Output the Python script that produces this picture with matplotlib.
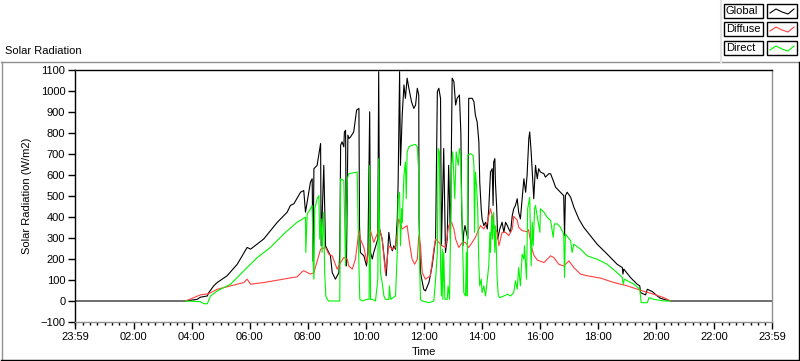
import matplotlib
matplotlib.use("Agg")
from matplotlib import pyplot as plt
from matplotlib.lines import Line2D
from matplotlib.patches import Rectangle
from matplotlib.ticker import MultipleLocator

# time in hours, values in W/m2
global_t = [-0.02, 3.79, 4.19, 4.30, 4.54, 4.59, 4.76, 4.88, 5.22, 5.57, 5.91, 6.03, 6.48, 6.95, 7.29,
            7.40, 7.52, 7.75, 7.86, 7.92, 8.09, 8.15, 8.18, 8.21, 8.32, 8.44, 8.46, 8.55, 8.61, 8.72,
            8.78, 8.84, 8.95, 9.07, 9.10, 9.13, 9.18, 9.24, 9.26, 9.30, 9.33, 9.38, 9.42, 9.47, 9.58,
            9.68, 9.76, 9.78, 9.81, 9.93, 10.02, 10.07, 10.13, 10.16, 10.22, 10.27, 10.41, 10.44, 10.47,
            10.56, 10.65, 10.70, 10.79, 10.85, 10.91, 10.96, 11.02, 11.08, 11.11, 11.16, 11.19, 11.25,
            11.31, 11.36, 11.42, 11.48, 11.57, 11.65, 11.71, 11.77, 11.82, 11.83, 11.88, 11.99, 12.05,
            12.17, 12.28, 12.40, 12.46, 12.51, 12.57, 12.60, 12.68, 12.74, 12.80, 12.85, 12.91, 12.97,
            13.03, 13.09, 13.14, 13.22, 13.27, 13.30, 13.34, 13.37, 13.41, 13.51, 13.54, 13.66, 13.72,
            13.77, 13.83, 13.89, 13.92, 13.97, 14.00, 14.06, 14.12, 14.18, 14.23, 14.29, 14.35, 14.38,
            14.40, 14.44, 14.46, 14.50, 14.54, 14.61, 14.69, 14.75, 14.81, 14.87, 14.92, 14.98, 15.04,
            15.09, 15.15, 15.21, 15.26, 15.32, 15.38, 15.44, 15.50, 15.55, 15.61, 15.64, 15.69, 15.73,
            15.78, 15.84, 15.90, 15.95, 16.01, 16.13, 16.18, 16.30, 16.36, 16.47, 16.53, 16.70, 16.81,
            16.84, 16.87, 16.93, 17.05, 17.16, 17.33, 17.50, 17.73, 17.96, 18.31, 18.65, 18.83, 18.85,
            18.88, 19.11, 19.34, 19.43, 19.46, 19.63, 19.69, 19.86, 20.03, 20.14, 20.26, 20.49, 23.98]
global_v = [0, 0, 8, 18, 24, 40, 72, 88, 120, 175, 255, 247, 295, 375, 423,
            455, 463, 518, 526, 423, 566, 582, 190, 630, 646, 750, 263, 646, 263, 231,
            215, 135, 104, 135, 231, 742, 758, 734, 805, 813, 167, 790, 774, 781, 805,
            909, 917, 359, 231, 215, 167, 231, 901, 231, 200, 231, 295, 1092, 343,
            295, 183, 120, 327, 263, 239, 263, 247, 391, 566, 1092, 646, 885,
            1029, 965, 1061, 1013, 949, 917, 933, 1013, 981, 391, 135, 56, 48,
            88, 167, 295, 997, 1013, 965, 263, 726, 231, 295, 646, 295, 1061,
            1045, 933, 965, 981, 800, 420, 263, 327, 359, 295, 965, 965, 949,
            885, 853, 758, 566, 439, 391, 359, 375, 343, 439, 614, 630, 455,
            662, 678, 566, 455, 295, 343, 375, 327, 375, 359, 343, 327, 407,
            439, 455, 487, 423, 391, 487, 582, 518, 598, 774, 805, 710, 614,
            487, 646, 582, 630, 614, 606, 590, 606, 606, 566, 542, 518, 502,
            311, 502, 518, 494, 447, 391, 351, 311, 271, 223, 175, 159, 128,
            152, 112, 80, 72, 40, 29, 56, 45, 24, 13, 8, 0, 0]

diffuse_t = [3.79, 4.30, 4.59, 4.88, 5.34, 5.80, 5.91, 6.03, 6.48, 6.95, 7.40, 7.63, 7.81, 7.86, 8.09,
             8.21, 8.44, 8.61, 8.72, 8.84, 9.01, 9.13, 9.24, 9.36, 9.41, 9.53, 9.64, 9.76, 9.81,
             9.93, 10.04, 10.16, 10.27, 10.41, 10.44, 10.56, 10.67, 10.79, 10.91, 11.02, 11.13, 11.25,
             11.42, 11.48, 11.59, 11.68, 11.77, 11.82, 11.88, 11.94, 12.05, 12.22, 12.34, 12.40, 12.51,
             12.63, 12.74, 12.85, 12.95, 13.03, 13.09, 13.20, 13.32, 13.43, 13.54, 13.66, 13.77, 13.89,
             13.95, 14.06, 14.18, 14.29, 14.35, 14.40, 14.52, 14.58, 14.69, 14.81, 14.92, 15.04, 15.09,
             15.21, 15.26, 15.38, 15.55, 15.60, 15.70, 15.78, 15.90, 16.13, 16.36, 16.47, 16.64, 16.81,
             16.99, 17.16, 17.39, 17.62, 18.08, 18.54, 19.00, 19.46, 19.91, 20.26, 20.49]
diffuse_v = [0, 29, 35, 56, 72, 88, 104, 80, 88, 99, 110, 115, 140, 144, 128,
             135, 247, 255, 223, 215, 152, 183, 207, 199, 167, 152, 199, 335, 295,
             255, 183, 335, 279, 327, 359, 295, 135, 263, 247, 255, 391, 343,
             359, 295, 199, 175, 199, 311, 263, 135, 104, 120, 247, 295, 279,
             263, 255, 359, 375, 343, 295, 255, 279, 279, 255, 279, 303, 343,
             359, 343, 375, 439, 407, 359, 327, 263, 327, 327, 311, 343, 403,
             385, 351, 335, 330, 340, 260, 219, 195, 183, 215, 207, 175, 167,
             191, 159, 128, 120, 109, 88, 72, 51, 32, 16, 0]

direct_t = [3.79, 4.30, 4.42, 4.54, 4.65, 4.88, 5.34, 5.80, 6.26, 6.71, 7.17, 7.63, 7.92, 7.93, 7.98,
            8.09, 8.15, 8.18, 8.21, 8.24, 8.32, 8.38, 8.41, 8.46, 8.49, 8.55, 8.58, 8.62, 8.67, 8.72,
            9.10, 9.13, 9.24, 9.30, 9.36, 9.41, 9.70, 9.73, 9.76, 9.79, 9.87, 10.04, 10.11, 10.13,
            10.16, 10.22, 10.33, 10.41, 10.44, 10.47, 10.50, 10.56, 10.62, 10.67, 10.79, 10.81, 10.85,
            11.02, 11.08, 11.11, 11.16, 11.19, 11.23, 11.25, 11.31, 11.36, 11.39, 11.42, 11.48, 11.59,
            11.71, 11.77, 11.82, 11.85, 11.88, 11.94, 12.17, 12.34, 12.40, 12.46, 12.49, 12.53, 12.57,
            12.60, 12.63, 12.65, 12.68, 12.72, 12.80, 12.83, 12.88, 12.95, 12.99, 13.06, 13.11, 13.18,
            13.22, 13.26, 13.32, 13.35, 13.37, 13.43, 13.46, 13.49, 13.51, 13.60, 13.69, 13.72, 13.74,
            13.77, 13.81, 13.85, 13.89, 13.92, 13.97, 14.00, 14.06, 14.12, 14.18, 14.23, 14.27, 14.29,
            14.33, 14.36, 14.40, 14.44, 14.47, 14.52, 14.56, 14.61, 14.75, 14.87, 14.98, 15.09, 15.15,
            15.21, 15.26, 15.32, 15.38, 15.44, 15.46, 15.53, 15.57, 15.61, 15.64, 15.69, 15.73, 15.76,
            15.81, 15.84, 15.95, 15.99, 16.01, 16.07, 16.13, 16.24, 16.36, 16.45, 16.49, 16.59, 16.70,
            16.81, 16.84, 16.87, 17.05, 17.10, 17.16, 17.39, 17.62, 17.96, 18.31, 18.65, 18.83, 18.86,
            18.90, 19.23, 19.43, 19.48, 19.69, 19.75, 19.91, 20.26, 20.49]
direct_v = [0, -3, -13, -13, 24, 48, 80, 144, 207, 255, 319, 375, 399, 231, 415,
            439, 455, 199, 104, 440, 487, 502, 295, 391, 231, 423, 135, 24, 8, 0,
            0, 582, 574, 167, 582, 606, 614, 391, 167, 8, 0, 8, 8, 646,
            8, 8, 0, 104, 678, 327, 135, 88, 24, 8, 8, 72, 8,
            24, 231, 487, 518, 263, 439, 375, 598, 662, 487, 710, 734, 742,
            745, 734, 614, 167, 8, 0, -8, 0, 104, 231, 726, 710, 167,
            24, 247, 8, 231, 8, 8, 72, 8, 646, 710, 487, 710, 646,
            726, 694, 327, 167, 40, 24, 231, 24, 694, 702, 694, 646, 327,
            614, 550, 439, 167, 72, 104, 40, 72, 24, 104, 167, 327, 231,
            407, 295, 423, 231, 359, 104, 24, 16, 24, 32, 24, 40, 96,
            56, 159, 72, 223, 199, 263, 104, 439, 471, 494, 167, 375, 263,
            439, 455, 359, 327, 439, 431, 423, 399, 383, 303, 367, 367, 351,
            319, 112, 319, 287, 231, 271, 247, 215, 199, 175, 135, 112, 80,
            104, 80, 56, -8, -8, 16, 8, 0, 0]

tick_pos = [-1 / 60, 2, 4, 6, 8, 10, 12, 14, 16, 18, 20, 22, 24 - 1 / 60]
tick_labels = ["23:59", "02:00", "04:00", "06:00", "08:00", "10:00", "12:00",
               "14:00", "16:00", "18:00", "20:00", "22:00", "23:59"]

GREEN = "#00F400"
RED = "#FF4040"
FONT = "Liberation Sans"
FS = 8

W, H = 800, 361
fig = plt.figure(figsize=(W / 100, H / 100), dpi=100, facecolor="white")


def px(x, y):
    # pixel (from top-left) -> figure fraction
    return x / W, 1 - y / H


ax = fig.add_axes([75 / W, 1 - 322 / H, (772 - 75) / W, (322 - 70) / H])
ax.plot(global_t, global_v, color="black", lw=0.8)
ax.plot(diffuse_t, diffuse_v, color=RED, lw=0.8)
ax.plot(direct_t, direct_v, color=GREEN, lw=0.8)

ax.set_xlim(-1 / 60, 24 - 1 / 60)
ax.set_ylim(-100, 1100)
ax.yaxis.set_major_locator(MultipleLocator(100))
ax.set_xticks(tick_pos)
ax.set_xticklabels(tick_labels)
ax.xaxis.set_minor_locator(MultipleLocator(0.25))
ax.tick_params(axis="both", which="major", direction="out", length=5, width=1,
               labelsize=FS, pad=2, colors="black")
ax.tick_params(axis="x", which="minor", direction="out", length=2.5, width=1)
for lab in ax.get_xticklabels() + ax.get_yticklabels():
    lab.set_fontfamily(FONT)

ax.spines["left"].set_color("black")
ax.spines["top"].set_color("black")
ax.spines["right"].set_color("#909090")
ax.spines["bottom"].set_color("#909090")
for s in ax.spines.values():
    s.set_linewidth(1)

ax.set_ylabel("Solar Radiation (W/m2)", fontsize=FS, family=FONT, labelpad=6)
ax.set_xlabel("Time", fontsize=FS, family=FONT, labelpad=4)

# outer panel frame
fig.add_artist(Line2D([1 / W, 799 / W], [1 - 62 / H] * 2, color="#909090", lw=1))
fig.add_artist(Line2D([1.5 / W] * 2, [1 - 62 / H, 1 - 360 / H], color="#909090", lw=1))
fig.add_artist(Line2D([1 / W, 799 / W], [1 - 359.5 / H] * 2, color="black", lw=1))
fig.add_artist(Line2D([798.5 / W] * 2, [1 - 62 / H, 1 - 360 / H], color="black", lw=1))

fig.text(5 / W, 1 - 51 / H, "Solar Radiation", fontsize=FS, family=FONT, va="center", ha="left")

# legend drawn like the original: name box + sample box per row
legend_names = ["Global", "Diffuse", "Direct"]
legend_colors = ["black", RED, GREEN]
rows = [(4, 18), (22, 36), (41, 55)]
fig.add_artist(Line2D([721 / W] * 2, [1, 1 - 62 / H], color="#E4E4E4", lw=1.5))
for name, col, (y0, y1) in zip(legend_names, legend_colors, rows):
    x0, y_b = px(724, y1)
    fig.add_artist(Rectangle((x0, y_b), 39 / W, (y1 - y0) / H, fill=False, ec="black", lw=1))
    fig.text(726 / W, 1 - (y0 + y1) / 2 / H, name, fontsize=FS, family=FONT, va="center", ha="left")
    sx, sy = px(767, y1)
    fig.add_artist(Rectangle((sx, sy), 30 / W, (y1 - y0) / H, fill=False, ec="black", lw=1))
    zx = [770, 776, 782, 788, 794]
    zy = [y0 + 9, y0 + 5, y0 + 8, y0 + 10, y0 + 5]
    fig.add_artist(Line2D([v / W for v in zx], [1 - v / H for v in zy], color=col, lw=0.8))

plt.savefig("out.png", dpi=100, facecolor="white")
